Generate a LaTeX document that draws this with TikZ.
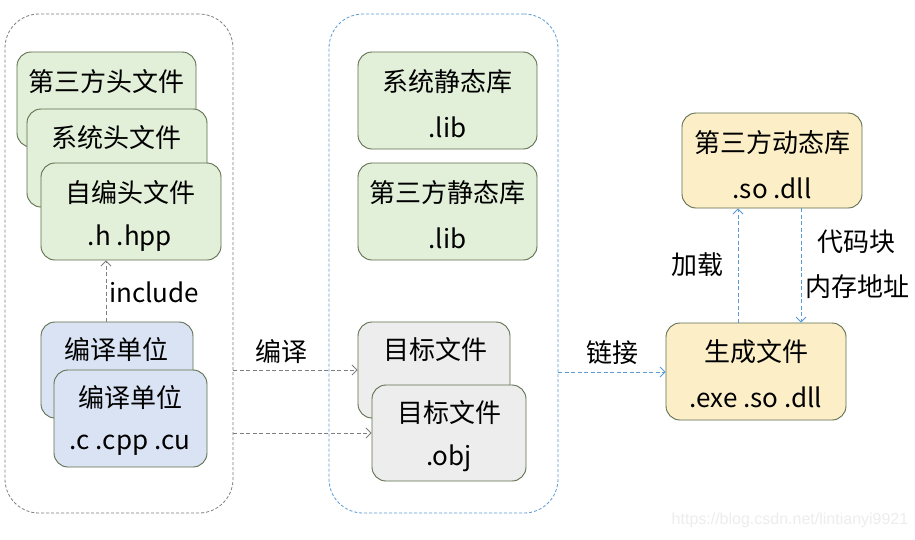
\documentclass[tikz,border=0pt]{standalone}
\usepackage{fontspec}
\setmainfont{Noto Sans CJK SC}
\newfontfamily\wmfont{Liberation Sans}
\usetikzlibrary{arrows.meta}
\definecolor{gfill}{HTML}{E2EFD9}
\definecolor{bfill}{HTML}{DAE3F3}
\definecolor{kfill}{HTML}{EDEDED}
\definecolor{yfill}{HTML}{FCEFC7}
\definecolor{bord}{HTML}{5E6E4E}
\definecolor{gline}{HTML}{7F7F7F}
\definecolor{bline}{HTML}{5B9BD5}
\begin{document}
\begin{tikzpicture}[x=1pt,y=-1pt,
  bx/.style={draw=bord, line width=0.9pt, rounded corners=14pt, inner sep=0pt},
  cont/.style={line width=0.8pt, rounded corners=34pt, dash pattern=on 3pt off 2pt, inner sep=0pt},
  txt/.style={font=\fontsize{26}{30}\selectfont, inner sep=0pt, text=black},
  garr/.style={draw=gline, line width=0.8pt, dash pattern=on 4pt off 2.5pt, -{Straight Barb[length=5pt,width=10pt]}},
  barr/.style={draw=bline, line width=0.8pt, dash pattern=on 4pt off 2.5pt, -{Straight Barb[length=5pt,width=10pt]}}]
\useasboundingbox[fill=white] (0,0) rectangle (915,539);
% containers
\node[cont, draw=gline, minimum width=228pt, minimum height=499pt] (L) at (119,263.5) {};
\node[cont, draw=bline, minimum width=229pt, minimum height=499pt] (M) at (443.5,263.5) {};
% header boxes
\node[bx, fill=gfill, minimum width=179pt, minimum height=95pt] (h1) at (106.5,99.5) {};
\node[txt] (th1) at (106.5,82) {第三方头文件};
\node[bx, fill=gfill, minimum width=180pt, minimum height=98pt] (h2) at (117,158) {};
\node[txt] (th2) at (116,138) {系统头文件};
\node[bx, fill=gfill, minimum width=180pt, minimum height=97pt] (h3) at (131,211.5) {};
\node[txt] (th3) at (130,193) {自编头文件};
\node[txt] (th3b) at (130,238) {.h .hpp};
% compile units
\node[bx, fill=bfill, minimum width=152pt, minimum height=96pt] (cu1) at (117,370) {};
\node[txt] (tc1) at (116,350) {编译单位};
\node[bx, fill=bfill, minimum width=153pt, minimum height=97pt] (cu2) at (130.5,418.5) {};
\node[txt] (tc2) at (130,398) {编译单位};
\node[txt] (tc2b) at (130,445) {.c .cpp .cu};
% static libs
\node[bx, fill=gfill, minimum width=179pt, minimum height=97pt] (s1) at (447.5,100.5) {};
\node[txt] (ts1) at (447.5,82) {系统静态库};
\node[txt] (ts1b) at (447.5,127) {.lib};
\node[bx, fill=gfill, minimum width=179pt, minimum height=97pt] (s2) at (447.5,211.5) {};
\node[txt] (ts2) at (447.5,193) {第三方静态库};
\node[txt] (ts2b) at (447.5,238) {.lib};
% object files
\node[bx, fill=kfill, minimum width=152pt, minimum height=96pt] (o1) at (434,370) {};
\node[txt] (to1) at (435,350) {目标文件};
\node[bx, fill=kfill, minimum width=154pt, minimum height=96pt] (o2) at (449,433) {};
\node[txt] (to2) at (449,413) {目标文件};
\node[txt] (to2b) at (449,458) {.obj};
% dynamic lib and output
\node[bx, fill=yfill, minimum width=180pt, minimum height=95pt] (d1) at (772,160.5) {};
\node[txt] (td1) at (772,143) {第三方动态库};
\node[txt] (td1b) at (772,188) {.so .dll};
\node[bx, fill=yfill, minimum width=180pt, minimum height=97pt] (g1) at (756,371.5) {};
\node[txt] (tg1) at (756,352) {生成文件};
\node[txt] (tg1b) at (756,397) {.exe .so .dll};
% helper coordinates
\coordinate (ix) at (106,0);
\coordinate (ya) at (0,370);
\coordinate (yb) at (0,433);
\coordinate (yc) at (0,372);
\coordinate (xa) at (738,0);
\coordinate (xb) at (801,0);
% connectors
\draw[garr] (cu1.north -| ix) -- (h3.south -| ix);
\node[txt, anchor=west] (linc) at (109,292) {include};
\draw[garr] (L.east |- ya) -- (o1.west |- ya);
\draw[garr] (L.east |- yb) -- (o2.west |- yb);
\node[txt] (lcomp) at (281,352) {编译};
\draw[barr] (M.east |- yc) -- (g1.west |- yc);
\node[txt] (llink) at (612,353) {链接};
\draw[barr] (g1.north -| xa) -- (d1.south -| xa);
\node[txt] (lload) at (697,265) {加载};
\draw[barr] (d1.south -| xb) -- (g1.north -| xb);
\node[txt] (lcode) at (856,242) {代码块};
\node[txt] (lmem) at (857,287) {内存地址};
% watermark
\node[inner sep=0pt, text=black!7, font=\wmfont\fontsize{16}{18}\selectfont] (wm) at (790,520) {https://blog.csdn.net/lintianyi9921};
\end{tikzpicture}
\end{document}
